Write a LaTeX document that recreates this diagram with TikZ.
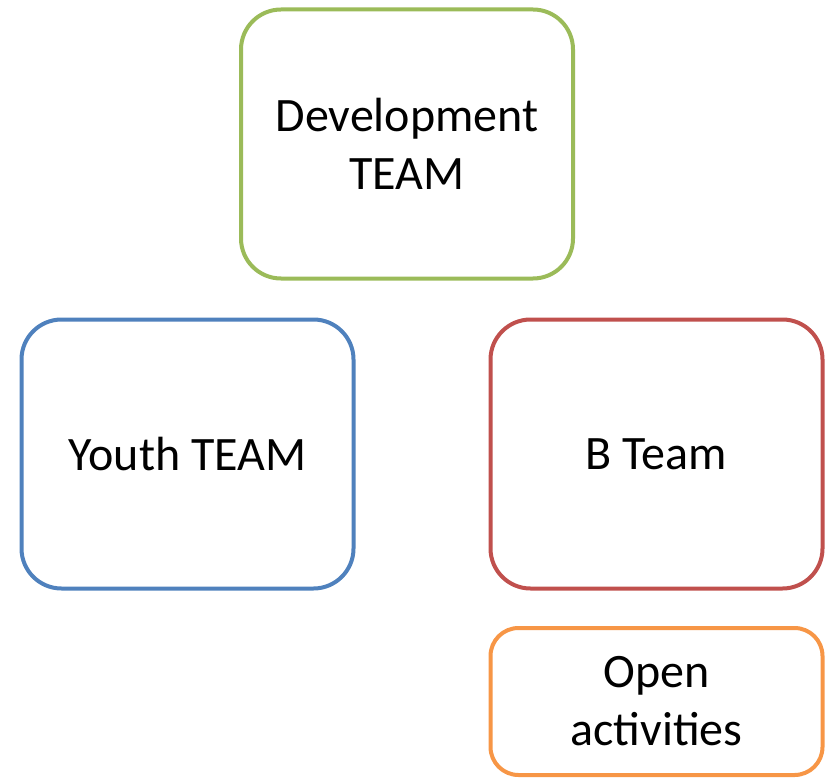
\documentclass[tikz,border=0pt]{standalone}
\usepackage{fontspec}
\setmainfont{Carlito}
\definecolor{devgreen}{HTML}{9BBB59}
\definecolor{youthblue}{HTML}{4F81BD}
\definecolor{bred}{HTML}{C0504D}
\definecolor{openorange}{HTML}{F79646}
\begin{document}
\begin{tikzpicture}
  [x=1pt,y=-1pt,every node/.style={rectangle,rounded corners=40pt,line width=4pt,fill=white,
   align=center,minimum width=332pt,font=\fontsize{48}{58}\selectfont}]
  \useasboundingbox (0,0) rectangle (829,778);
  \node[draw=devgreen,minimum height=269pt] (dev) at (407,144) {Development\\TEAM};
  \node[draw=youthblue,minimum height=269pt] (youth) at (187.5,454) {Youth TEAM};
  \node[draw=bred,minimum height=269pt] (bteam) at (656.5,454) {B Team};
  \node[draw=openorange,minimum height=147pt,rounded corners=28pt] (open) at (656.5,701.5) {Open\\activities};
\end{tikzpicture}
\end{document}
